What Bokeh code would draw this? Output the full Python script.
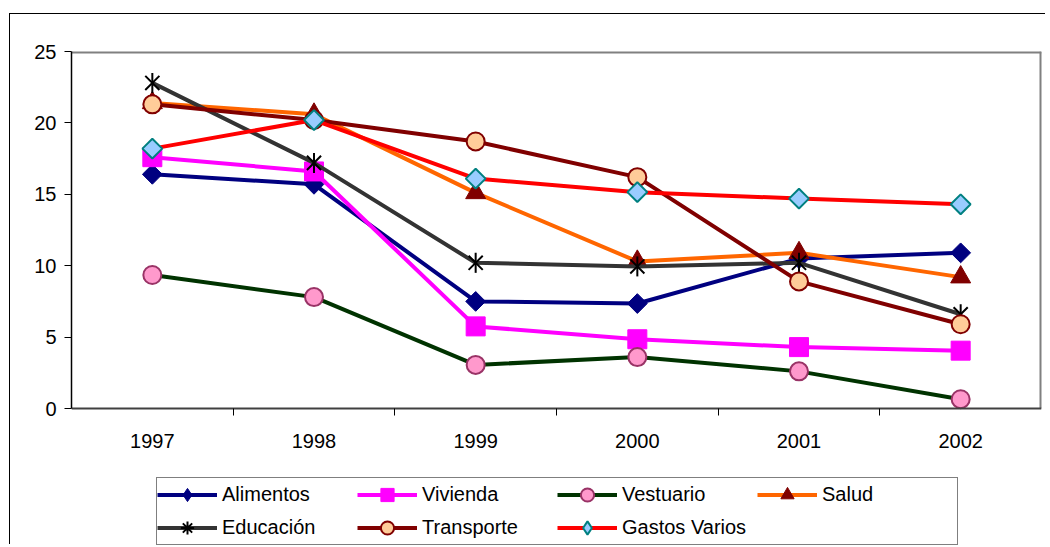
import math
from bokeh.plotting import figure
from bokeh.models import Range1d, FixedTicker, Legend, LegendItem, ColumnDataSource
from bokeh.embed import file_html
from bokeh.resources import INLINE

years = ["1997", "1998", "1999", "2000", "2001", "2002"]
alimentos = [16.4, 15.7, 7.5, 7.35, 10.5, 10.9]
vivienda = [17.6, 16.6, 5.75, 4.85, 4.3, 4.05]
vestuario = [9.35, 7.8, 3.05, 3.6, 2.6, 0.65]
salud = [21.4, 20.6, 15.1, 10.3, 10.9, 9.2]
educacion = [22.8, 17.2, 10.2, 9.95, 10.2, 6.6]
transporte = [21.3, 20.2, 18.7, 16.2, 8.9, 5.9]
gastos = [18.2, 20.2, 16.1, 15.15, 14.7, 14.3]
y_ticks = [0, 5, 10, 15, 20, 25]

FONT = "Liberation Sans"

xs = [i + 0.5 for i in range(len(years))]
x_max = len(years)
y_top = y_ticks[-1]
# frame extends below the value axis so the legend can live inside it
PLOT_H = 357      # pixels from 25 down to 0
FRAME_H = 494     # full frame height
y_lo = y_top - y_top * FRAME_H / PLOT_H

p = figure(width=1036, height=531, x_range=Range1d(0, x_max), y_range=Range1d(y_lo, y_top),
           output_backend="svg", toolbar_location=None,
           min_border_left=61, min_border_right=5, min_border_top=37, min_border_bottom=0)
# a range that sends legend-only markers outside the frame (they only show in the legend)
p.extra_x_ranges = {"legend_only": Range1d(10 * x_max, 11 * x_max)}
p.styles = {"position": "relative", "left": "9px", "top": "13px",
            "border-left": "1px solid black", "border-top": "1px solid black"}
p.grid.visible = False
p.outline_line_color = None
p.background_fill_color = "white"
p.border_fill_color = "white"

# grey plot-area frame (top and right)
p.segment(x0=[0, x_max], y0=[y_top, 0], x1=[x_max, x_max], y1=[y_top, y_top],
          line_color="#808080", line_width=4)

xa = p.xaxis[0]
xa.fixed_location = 0
xa.ticker = FixedTicker(ticks=xs, minor_ticks=[float(i) for i in range(1, len(years))])
xa.major_label_overrides = {x: y for x, y in zip(xs, years)}
xa.major_tick_line_color = None
xa.major_tick_in = 0
xa.major_tick_out = 0
xa.minor_tick_in = 0
xa.minor_tick_out = 7
xa.minor_tick_line_color = "black"
xa.minor_tick_line_width = 1
xa.axis_line_color = "#404040"
xa.axis_line_width = 2
xa.major_label_text_font = FONT
xa.major_label_text_font_size = "20px"
xa.major_label_text_color = "black"
xa.major_label_standoff = 18

ya = p.yaxis[0]
ya.ticker = FixedTicker(ticks=y_ticks)
ya.bounds = (0, y_top)
ya.minor_tick_line_color = None
ya.major_tick_in = 0
ya.major_tick_out = 7
ya.major_tick_line_color = "black"
ya.axis_line_color = "black"
ya.axis_line_width = 1.5
ya.major_label_text_font = FONT
ya.major_label_text_font_size = "20px"
ya.major_label_text_color = "black"
ya.major_label_standoff = 8

D = math.pi / 4
series = [
    ("Alimentos", alimentos, "#000080",
     [dict(marker="square", angle=D, size=14, fill_color="#000080", line_color="#000080", line_width=1)],
     [dict(marker="diamond", size=17, fill_color="#000080", line_color="#000080", line_width=1)]),
    ("Vivienda", vivienda, "#FF00FF",
     [dict(marker="square", angle=0, size=19, fill_color="#FF00FF", line_color="#FF00FF", line_width=1)],
     [dict(marker="square", size=12, fill_color="#FF00FF", line_color="#FF00FF", line_width=1)]),
    ("Vestuario", vestuario, "#003300",
     [dict(marker="circle", angle=0, size=18, fill_color="#FF99CC", line_color="#993366", line_width=2)],
     [dict(marker="circle", size=12, fill_color="#FF99CC", line_color="#993366", line_width=2)]),
    ("Salud", salud, "#FF6600",
     [dict(marker="triangle", angle=0, size=20, fill_color="#800000", line_color="#800000", line_width=1)],
     [dict(marker="triangle", size=15, fill_color="#800000", line_color="#800000", line_width=1)]),
    ("Educación", educacion, "#333333",
     [dict(marker="x", angle=0, size=20, fill_color=None, line_color="black", line_width=2),
      dict(marker="dash", angle=math.pi / 2, size=20, fill_color=None, line_color="black", line_width=2)],
     [dict(marker="asterisk", size=14, fill_color=None, line_color="black", line_width=2)]),
    ("Transporte", transporte, "#800000",
     [dict(marker="circle", angle=0, size=18, fill_color="#FFCC99", line_color="#800000", line_width=2)],
     [dict(marker="circle", size=13, fill_color="#FFCC99", line_color="#800000", line_width=2)]),
    ("Gastos Varios", gastos, "#FF0000",
     [dict(marker="square", angle=D, size=14, fill_color="#99CCFF", line_color="#008080", line_width=2)],
     [dict(marker="diamond", size=17, fill_color="#99CCFF", line_color="#008080", line_width=2)]),
]

items = []
for name, vals, color, marks, leg_marks in series:
    src = ColumnDataSource(dict(x=xs, y=vals))
    line_r = p.line("x", "y", source=src, line_color=color, line_width=4)
    for m in marks:
        p.scatter("x", "y", source=src, **m)
    rs = [line_r]
    for m in leg_marks:
        rs.append(p.scatter("x", "y", source=src, x_range_name="legend_only", **m))
    items.append(LegendItem(label=name, renderers=rs))

legend = Legend(items=items, location=(85, 0), orientation="horizontal", ncols=4,
                glyph_width=60, glyph_height=33, label_height=33, label_width=135,
                label_standoff=5, spacing=0, padding=0, margin=0,
                border_line_color="black", border_line_width=1,
                background_fill_color="white", background_fill_alpha=1,
                label_text_font=FONT, label_text_font_size="20px", label_text_color="black")
p.add_layout(legend, "center")

open("out.html", "w").write(file_html(p, INLINE))
